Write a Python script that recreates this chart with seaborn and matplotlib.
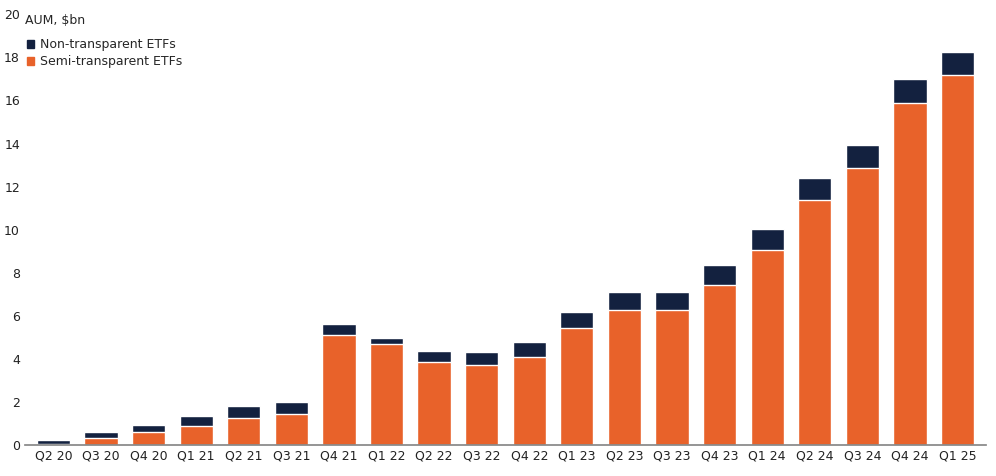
import matplotlib
matplotlib.use("Agg")
import matplotlib.pyplot as plt
import seaborn as sns
import pandas as pd
from matplotlib.patches import Patch

quarters = ["Q2 20","Q3 20","Q4 20","Q1 21","Q2 21","Q3 21","Q4 21","Q1 22","Q2 22","Q3 22",
            "Q4 22","Q1 23","Q2 23","Q3 23","Q4 23","Q1 24","Q2 24","Q3 24","Q4 24","Q1 25"]
semi = [0.05,0.35,0.6,0.9,1.25,1.45,5.1,4.7,3.85,3.7,4.1,5.45,6.25,6.25,7.45,9.05,11.4,12.85,15.9,17.2]
total = [0.23,0.6,0.95,1.35,1.8,2.0,5.6,4.95,4.35,4.3,4.8,6.2,7.1,7.1,8.35,10.05,12.4,13.95,17.0,18.25]

sns.set_theme(style="white")
plt.rcParams['font.family'] = ['DejaVu Sans']
orange = "#E8622A"
navy = "#13213F"

df = pd.DataFrame({"q": quarters, "semi": semi, "total": total})
fig, ax = plt.subplots(figsize=(9.96, 4.76), dpi=100)
sns.barplot(data=df, x="q", y="total", color=navy, width=0.7, ax=ax, saturation=1)
sns.barplot(data=df, x="q", y="semi", color=orange, width=0.7, ax=ax, saturation=1)

ax.set_ylim(0, 20)
ax.set_yticks(range(0, 21, 2))
ax.set_xlim(-0.6, len(quarters) - 0.4)
ax.set_xlabel("")
ax.set_ylabel("")
ax.tick_params(axis="both", labelsize=9, colors="#222222", length=0)
for s in ["top", "right", "left"]:
    ax.spines[s].set_visible(False)
ax.spines["bottom"].set_color("#888888")
ax.text(0.0, 1.0, "AUM, $bn", transform=ax.transAxes, fontsize=9, va="top", ha="left")
handles = [Patch(color=navy, label="Non-transparent ETFs"), Patch(color=orange, label="Semi-transparent ETFs")]
ax.legend(handles=handles, loc="upper left", bbox_to_anchor=(-0.01, 0.97), frameon=False,
          fontsize=9, handlelength=0.6, handleheight=0.6, handletextpad=0.5, labelspacing=0.3)
plt.subplots_adjust(left=0.025, right=0.99, top=0.97, bottom=0.065)
fig.savefig("out.png", dpi=100)
